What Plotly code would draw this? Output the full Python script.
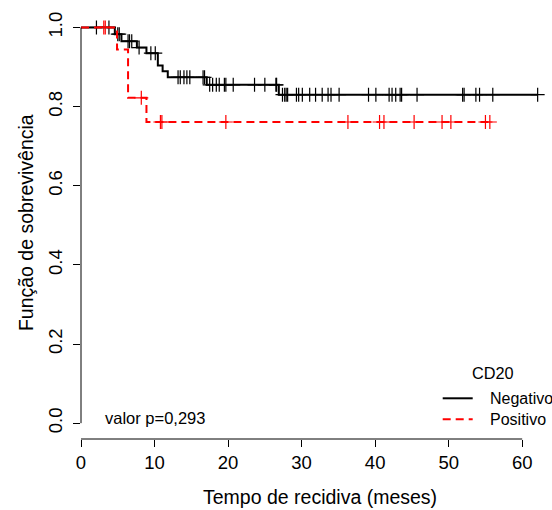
import plotly.graph_objects as go

# ---- data ----
neg_event_times = [4.6, 5.5, 7.6, 8.9, 10.45, 11.1, 11.8, 17.1, 26.9]
neg_surv = [0.983, 0.965, 0.949, 0.935, 0.904, 0.889, 0.874, 0.855, 0.830]
neg_censor = [2.1, 3.8, 5.0, 5.2, 6.4, 6.6, 6.9, 7.9, 9.5, 10.1, 13.2, 13.5, 14.0,
              14.4, 14.8, 16.6, 16.8, 17.5, 17.9, 18.4, 18.8, 19.5, 19.7, 20.7,
              23.6, 25.0, 26.5, 26.6, 27.4, 27.7, 27.9, 28.1, 29.3, 29.6, 30.1,
              31.1, 31.9, 32.8, 33.6, 34.0, 35.1, 39.1, 40.1, 41.9, 42.3, 42.8,
              43.4, 43.6, 45.7, 51.9, 52.1, 53.7, 54.2, 56.0, 62.1]

pos_event_times = [4.9, 6.4, 8.9]
pos_surv = [0.944, 0.822, 0.761]
pos_censor = [3.1, 3.3, 8.2, 10.8, 11.0, 19.7, 36.3, 40.6, 41.2, 45.3, 49.1,
              50.3, 55.0, 55.6]

group_names = ["Negativo", "Positivo"]
legend_title = "CD20"
x_ticks = [0, 10, 20, 30, 40, 50, 60]
y_ticks = [0.0, 0.2, 0.4, 0.6, 0.8, 1.0]
y_tick_labels = ["0.0", "0.2", "0.4", "0.6", "0.8", "1.0"]
x_title = "Tempo de recidiva (meses)"
y_title = "Função de sobrevivência"
p_text = "valor p=0,293"

FONT = "Liberation Sans, Arial, sans-serif"

W, H = 552, 510
ML, MR, MT, MB = 81, 7, 11, 71
PW, PH = W - ML - MR, H - MT - MB


def px_to_paper(px, py):
    return (px - ML) / PW, (H - MB - py) / PH


def step_xy(times, surv, end):
    xs = [0.0] + list(times) + [end]
    ys = [1.0] + list(surv) + [surv[-1]]
    return xs, ys


def surv_at(t, times, surv):
    s = 1.0
    for tt, ss in zip(times, surv):
        if tt <= t:
            s = ss
    return s


fig = go.Figure()

groups = [
    (group_names[0], neg_event_times, neg_surv, neg_censor, "black", "solid"),
    (group_names[1], pos_event_times, pos_surv, pos_censor, "#ff0000", "8px,5px"),
]

for name, et, sv, cens, col, dash in groups:
    xs, ys = step_xy(et, sv, max(cens))
    fig.add_trace(go.Scatter(
        x=xs, y=ys, mode="lines", line_shape="hv",
        line=dict(color=col, width=2, dash=dash),
        name=name, showlegend=False, hoverinfo="skip"))
    fig.add_trace(go.Scatter(
        x=cens, y=[surv_at(c, et, sv) for c in cens], mode="markers",
        marker=dict(symbol="cross-thin", size=10,
                    line=dict(color=col, width=1.2)),
        showlegend=False, hoverinfo="skip"))

# axis lines spanning only the tick range (like base R)
fig.add_shape(type="line", xref="x", yref="paper", x0=x_ticks[0], x1=x_ticks[-1],
              y0=0, y1=0, line=dict(color="black", width=1))
fig.add_shape(type="line", xref="paper", yref="y", x0=0, x1=0,
              y0=y_ticks[0], y1=y_ticks[-1], line=dict(color="black", width=1))

# legend (drawn like base R legend, bottom-right)
leg_rows = [398.3, 419.3]
for (name, et, sv, cens, col, dash), ry in zip(groups, leg_rows):
    x0, y0 = px_to_paper(442.7, ry)
    x1, _ = px_to_paper(472.7, ry)
    fig.add_shape(type="line", xref="paper", yref="paper", x0=x0, x1=x1,
                  y0=y0, y1=y0, line=dict(color=col, width=2, dash=dash))
    tx, ty = px_to_paper(488.3, ry)
    fig.add_annotation(x=tx, y=ty, xref="paper", yref="paper", text=name,
                       showarrow=False, xanchor="left", yanchor="middle",
                       font=dict(family=FONT, size=16, color="black"))
cx, cy = px_to_paper(492.5, 373.0)
fig.add_annotation(x=cx, y=cy, xref="paper", yref="paper", text=legend_title,
                   showarrow=False, xanchor="center", yanchor="middle",
                   font=dict(family=FONT, size=16.3, color="black"))

fig.add_annotation(x=3.0, y=0.012, xref="x", yref="y", text=p_text,
                   showarrow=False, xanchor="left", yanchor="middle",
                   font=dict(family=FONT, size=16.5, color="black"))
fig.add_annotation(x=0.515, y=-0.135, xref="paper", yref="paper", text=x_title,
                   showarrow=False, xanchor="center", yanchor="middle",
                   font=dict(family=FONT, size=19.5, color="black"))
fig.add_annotation(x=-0.118, y=0.505, xref="paper", yref="paper", text=y_title,
                   showarrow=False, xanchor="center", yanchor="middle", textangle=-90,
                   font=dict(family=FONT, size=19.5, color="black"))

fig.update_layout(
    width=W, height=H,
    margin=dict(l=ML, r=MR, t=MT, b=MB),
    paper_bgcolor="white", plot_bgcolor="white",
    font=dict(family=FONT, size=18, color="black"),
    showlegend=False,
    xaxis=dict(range=[0, 63.1], tickvals=x_ticks, ticks="outside", ticklen=7,
               tickwidth=1, tickcolor="black", showline=False, showgrid=False,
               zeroline=False, tickfont=dict(size=18.5), ticklabelstandoff=0),
    yaxis=dict(range=[-0.04, 1.0415], tickvals=y_ticks, ticktext=y_tick_labels,
               ticks="outside", ticklen=7, tickwidth=1, tickcolor="black",
               showline=False, showgrid=False, zeroline=False, tickangle=-90,
               tickfont=dict(size=18.5), ticklabelstandoff=4),
)

fig.write_html("out.html")
